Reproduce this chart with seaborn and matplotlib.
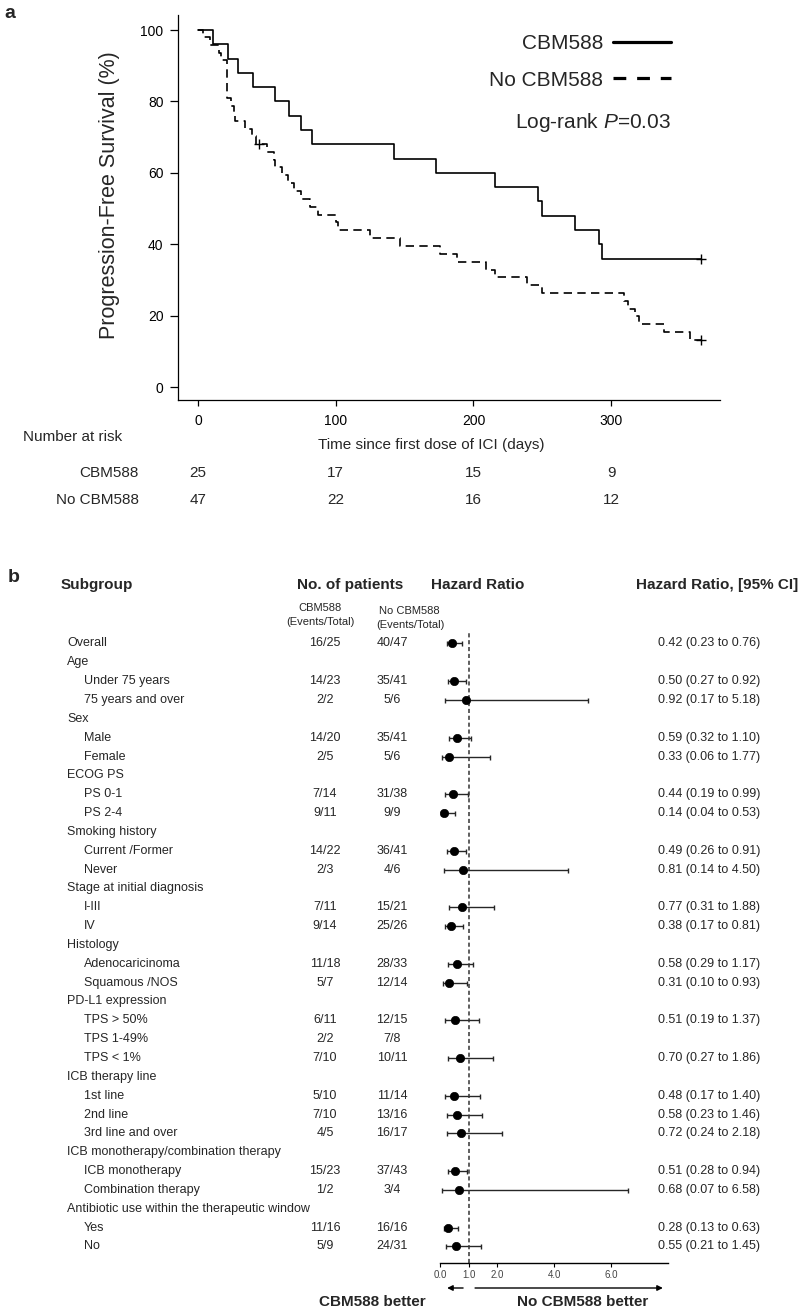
import numpy as np
import pandas as pd
import seaborn as sns
import matplotlib.pyplot as plt
from matplotlib.lines import Line2D
from matplotlib.transforms import blended_transform_factory

sns.set_style('ticks')
plt.rcParams['font.family'] = ['Liberation Sans', 'DejaVu Sans']
plt.rcParams['mathtext.fontset'] = 'custom'
plt.rcParams['mathtext.rm'] = 'Liberation Sans'
plt.rcParams['mathtext.it'] = 'Liberation Sans:italic'

# ---- panel a: Kaplan-Meier steps ----
cbm_days = [0, 11, 22, 29, 40, 56, 66, 75, 83, 142, 173, 216, 247, 250, 274, 291, 293, 365]
cbm_pfs = [100, 96, 92, 88, 84, 80, 76, 72, 68, 64, 60, 56, 52, 48, 44, 40, 36, 36]
no_days = [0, 4, 9, 15, 17, 21, 24, 26, 27, 34, 39, 42, 50, 55, 56, 61, 65, 70, 75, 81, 87,
           100, 102, 125, 147, 176, 188, 209, 216, 239, 250, 309, 312, 317, 320, 338, 357, 365]
no_pfs = [100, 97.9, 95.7, 93.6, 91.5, 80.9, 78.7, 76.6, 74.5, 72.3, 70.2, 68.1, 65.9, 63.7, 61.5,
          59.3, 57.1, 54.9, 52.7, 50.5, 48.3, 46.1, 43.9, 41.7, 39.5, 37.3, 35.1, 32.9, 30.7, 28.6,
          26.4, 24.2, 22.0, 19.8, 17.6, 15.4, 13.2, 13.2]
cbm_cens_days = [365]
cbm_cens_pfs = [36]
no_cens_days = [44, 365]
no_cens_pfs = [68.1, 13.2]

risk_days = [0, 100, 200, 300]
risk_cbm = [25, 17, 15, 9]
risk_no = [47, 22, 16, 12]

# ---- panel b: forest plot ----
labels = ['Overall', 'Age', 'Under 75 years', '75 years and over', 'Sex', 'Male', 'Female',
          'ECOG PS', 'PS 0-1', 'PS 2-4', 'Smoking history', 'Current /Former', 'Never',
          'Stage at initial diagnosis', 'I-III', 'IV', 'Histology', 'Adenocaricinoma',
          'Squamous /NOS', 'PD-L1 expression', 'TPS > 50%', 'TPS 1-49%', 'TPS < 1%',
          'ICB therapy line', '1st line', '2nd line', '3rd line and over',
          'ICB monotherapy/combination therapy', 'ICB monotherapy', 'Combination therapy',
          'Antibiotic use within the therapeutic window', 'Yes', 'No']
indent = [0, 0, 1, 1, 0, 1, 1, 0, 1, 1, 0, 1, 1, 0, 1, 1, 0, 1, 1, 0, 1, 1, 1,
          0, 1, 1, 1, 0, 1, 1, 0, 1, 1]
n_cbm = ['16/25', '', '14/23', '2/2', '', '14/20', '2/5', '', '7/14', '9/11', '', '14/22', '2/3',
         '', '7/11', '9/14', '', '11/18', '5/7', '', '6/11', '2/2', '7/10', '', '5/10', '7/10',
         '4/5', '', '15/23', '1/2', '', '11/16', '5/9']
n_no = ['40/47', '', '35/41', '5/6', '', '35/41', '5/6', '', '31/38', '9/9', '', '36/41', '4/6',
        '', '15/21', '25/26', '', '28/33', '12/14', '', '12/15', '7/8', '10/11', '', '11/14',
        '13/16', '16/17', '', '37/43', '3/4', '', '16/16', '24/31']
nan = np.nan
hr = [0.42, nan, 0.50, 0.92, nan, 0.59, 0.33, nan, 0.44, 0.14, nan, 0.49, 0.81, nan, 0.77, 0.38,
      nan, 0.58, 0.31, nan, 0.51, nan, 0.70, nan, 0.48, 0.58, 0.72, nan, 0.51, 0.68, nan, 0.28, 0.55]
hr_lo = [0.23, nan, 0.27, 0.17, nan, 0.32, 0.06, nan, 0.19, 0.04, nan, 0.26, 0.14, nan, 0.31, 0.17,
         nan, 0.29, 0.10, nan, 0.19, nan, 0.27, nan, 0.17, 0.23, 0.24, nan, 0.28, 0.07, nan, 0.13, 0.21]
hr_hi = [0.76, nan, 0.92, 5.18, nan, 1.10, 1.77, nan, 0.99, 0.53, nan, 0.91, 4.50, nan, 1.88, 0.81,
         nan, 1.17, 0.93, nan, 1.37, nan, 1.86, nan, 1.40, 1.46, 2.18, nan, 0.94, 6.58, nan, 0.63, 1.45]
hr_ticks = [0, 1, 2, 4, 6]

W, H = 800, 1309
fig = plt.figure(figsize=(8, 13.09), dpi=100)


def fx(px):
    return px / W


def fy(py):
    return 1 - py / H


# ================= panel a =================
ax = fig.add_axes([fx(178), fy(400), fx(720) - fx(178), fy(15) - fy(400)])
df_cbm = pd.DataFrame({'day': cbm_days, 'pfs': cbm_pfs})
df_no = pd.DataFrame({'day': no_days, 'pfs': no_pfs})
sns.lineplot(data=df_cbm, x='day', y='pfs', ax=ax, color='black', lw=1.2,
             drawstyle='steps-post', estimator=None, sort=False)
sns.lineplot(data=df_no, x='day', y='pfs', ax=ax, color='black', lw=1.2,
             drawstyle='steps-post', estimator=None, sort=False, linestyle=(0, (5, 3.2)))
sns.scatterplot(x=cbm_cens_days + no_cens_days, y=cbm_cens_pfs + no_cens_pfs, ax=ax,
                marker='+', s=60, color='black', linewidth=1.0, zorder=4)

ax.set_xlim(-14.5, 379)
ax.set_ylim(-3.6, 104.2)
ax.set_xticks(risk_days)
ax.set_yticks([0, 20, 40, 60, 80, 100])
ax.set_xlabel('')
ax.set_ylabel('')
sns.despine(ax=ax)
for s in ['left', 'bottom']:
    ax.spines[s].set_linewidth(0.9)
    ax.spines[s].set_color('black')
ax.tick_params(axis='y', length=5.5, width=0.9, pad=5, labelsize=10, colors='black')
ax.tick_params(axis='x', length=4.3, width=0.9, pad=6, labelsize=10, colors='black')

handles = [Line2D([], [], color='black', lw=2.3),
           Line2D([], [], color='black', lw=2.3, dashes=(4, 3.4))]
ax.legend(handles, ['CBM588', 'No CBM588'], loc='upper right',
          bbox_to_anchor=(fx(671), fy(34)), bbox_transform=fig.transFigure,
          frameon=False, markerfirst=False, fontsize=15, handlelength=2.8,
          handletextpad=0.45, labelspacing=0.85, borderpad=0, borderaxespad=0)
fig.text(fx(671), fy(122), 'Log-rank $\\mathit{P}$=0.03', ha='right', va='center', fontsize=15)
fig.text(fx(110), fy(195), 'Progression-Free Survival (%)', rotation=90,
         ha='center', va='center', fontsize=15.5)
fig.text(fx(4), fy(13), 'a', fontsize=14, fontweight='bold', ha='left', va='center')

# risk table
trans_r = blended_transform_factory(ax.transData, fig.transFigure)
fig.text(fx(23), fy(437), 'Number at risk', fontsize=11, ha='left', va='center')
fig.text(fx(431), fy(445), 'Time since first dose of ICI (days)', fontsize=11,
         ha='center', va='center')
fig.text(fx(139), fy(473), 'CBM588', fontsize=11, ha='right', va='center')
fig.text(fx(139), fy(500), 'No CBM588', fontsize=11, ha='right', va='center')
for d, n1, n2 in zip(risk_days, risk_cbm, risk_no):
    ax.text(d, fy(473), str(n1), transform=trans_r, ha='center', va='center', fontsize=11)
    ax.text(d, fy(500), str(n2), transform=trans_r, ha='center', va='center', fontsize=11)

# ================= panel b =================
fax = fig.add_axes([fx(440), fy(1263), fx(668) - fx(440), fy(632) - fy(1263)])
rows = np.arange(len(labels))
hr_a = np.array(hr)
lo_a = np.array(hr_lo)
hi_a = np.array(hr_hi)
ok = ~np.isnan(hr_a)
fax.errorbar(hr_a[ok], rows[ok], xerr=[hr_a[ok] - lo_a[ok], hi_a[ok] - hr_a[ok]], fmt='none',
             ecolor='#262626', elinewidth=1.0, capsize=1.8, capthick=1.0)
sns.scatterplot(x=hr_a[ok], y=rows[ok], ax=fax, color='black', s=36, edgecolor='black',
                linewidth=0.5, zorder=3)
fax.axvline(1, color='#333333', lw=1.1, ls=(0, (2.7, 1.8)))
fax.set_xlim(0, 8)
fax.set_ylim(32.88, -0.61)
fax.set_xticks(hr_ticks)
fax.set_xticklabels(['%.1f' % t for t in hr_ticks])
fax.set_yticks([])
fax.set_xlabel('')
fax.set_ylabel('')
for s in ['left', 'right', 'top']:
    fax.spines[s].set_visible(False)
fax.spines['bottom'].set_linewidth(1.0)
fax.spines['bottom'].set_color('black')
fax.tick_params(axis='x', length=3, width=0.8, pad=2, labelsize=7, labelcolor='#444444',
                color='black')

trans_f = blended_transform_factory(fig.transFigure, fax.transData)
for i, lab in enumerate(labels):
    fax.text(fx(84) if indent[i] else fx(67), i, lab, transform=trans_f, ha='left',
             va='center', fontsize=9)
    fax.text(fx(325), i, n_cbm[i], transform=trans_f, ha='center', va='center', fontsize=9)
    fax.text(fx(392), i, n_no[i], transform=trans_f, ha='center', va='center', fontsize=9)
    if not np.isnan(hr[i]):
        fax.text(fx(658), i, '%.2f (%.2f to %.2f)' % (hr[i], hr_lo[i], hr_hi[i]),
                 transform=trans_f, ha='left', va='center', fontsize=9)

fig.text(fx(8), fy(577), 'b', fontsize=14, fontweight='bold', ha='left', va='center')
fig.text(fx(61), fy(585), 'Subgroup', fontsize=11, fontweight='bold', ha='left', va='center')
fig.text(fx(350), fy(585), 'No. of patients', fontsize=11, fontweight='bold', ha='center', va='center')
fig.text(fx(478), fy(585), 'Hazard Ratio', fontsize=11, fontweight='bold', ha='center', va='center')
fig.text(fx(798), fy(585), 'Hazard Ratio, [95% CI]', fontsize=11, fontweight='bold',
         ha='right', va='center')
fig.text(fx(320), fy(608), 'CBM588', fontsize=8, ha='center', va='center')
fig.text(fx(320), fy(622), '(Events/Total)', fontsize=8, ha='center', va='center')
fig.text(fx(409), fy(611), 'No CBM588', fontsize=8, ha='center', va='center')
fig.text(fx(410), fy(625), '(Events/Total)', fontsize=8, ha='center', va='center')

trans_a = blended_transform_factory(fax.transData, fig.transFigure)
arrow = dict(arrowstyle='-|>', color='black', lw=1.0, mutation_scale=8, shrinkA=0, shrinkB=0)
fax.annotate('', xy=(0.25, fy(1288)), xytext=(0.81, fy(1288)), xycoords=trans_a,
             textcoords=trans_a, arrowprops=arrow, annotation_clip=False)
fax.annotate('', xy=(7.82, fy(1288)), xytext=(1.23, fy(1288)), xycoords=trans_a,
             textcoords=trans_a, arrowprops=arrow, annotation_clip=False)
fig.text(fx(372), fy(1302), 'CBM588 better', fontsize=11, fontweight='bold', ha='center', va='center')
fig.text(fx(583), fy(1302), 'No CBM588 better', fontsize=11, fontweight='bold', ha='center', va='center')

fig.savefig('out.png', dpi=100)
